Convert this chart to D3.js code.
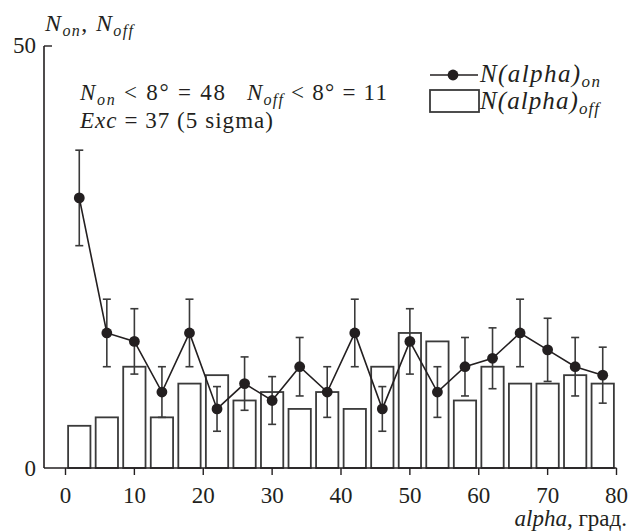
<!DOCTYPE html>
<html><head><meta charset="utf-8">
<script src="https://cdn.jsdelivr.net/npm/d3@7"></script>
<style>
body{margin:0;background:#fff;}
text{white-space:pre;}
</style></head>
<body><svg id="c" width="630" height="531"></svg>
<script>
// bin centers (degrees)
const binCenters = [2,6,10,14,18,22,26,30,34,38,42,46,50,54,58,62,66,70,74,78];
const nOn  = [32,16,15,9,16,7,10,8,12,9,16,7,15,9,12,13,16,14,12,11];
const nOff = [5,6,12,6,10,11,8,9,7,9,7,12,16,15,8,12,10,10,11,10];
const xTicks = [0,10,20,30,40,50,60,70,80];
const yTicks = [0,50];

const svg = d3.select("#c").attr("font-family", '"Liberation Serif", "Times New Roman", "DejaVu Serif", serif');
const ink = "#231f20";
const x = d3.scaleLinear().domain([0,80]).range([65.5,616.5]);
const y = d3.scaleLinear().domain([0,50]).range([468,46]);
const xLeft = 44;
const halfBar = 1.62;

// bars (off)
svg.append("g").selectAll("rect").data(binCenters).join("rect")
  .attr("x",(d)=>x(d-halfBar)).attr("width",(d)=>x(d+halfBar)-x(d-halfBar))
  .attr("y",(d,i)=>y(nOff[i])).attr("height",(d,i)=>y(0)-y(nOff[i]))
  .attr("fill","#fff").attr("stroke","#3a3a3a").attr("stroke-width",1.8);

// axes
const xAxis = svg.append("g").attr("transform",`translate(0,${y(0)})`);
xAxis.append("line").attr("x1",xLeft).attr("x2",x(80)).attr("y1",0).attr("y2",0)
  .attr("stroke",ink).attr("stroke-width",1.6);
xAxis.selectAll("line.t").data(xTicks).join("line").attr("class","t")
  .attr("x1",d=>x(d)).attr("x2",d=>x(d)).attr("y1",0).attr("y2",7)
  .attr("stroke",ink).attr("stroke-width",1.4);
xAxis.selectAll("text").data(xTicks).join("text")
  .attr("x",d=>x(d)).attr("y",35).attr("text-anchor","middle").attr("fill",ink)
  .attr("font-size",23).text(d=>d);

const yAxis = svg.append("g");
yAxis.append("line").attr("x1",xLeft).attr("x2",xLeft).attr("y1",y(50)).attr("y2",y(0))
  .attr("stroke",ink).attr("stroke-width",1.6);
yAxis.append("line").attr("x1",xLeft).attr("x2",xLeft+8).attr("y1",y(50)).attr("y2",y(50))
  .attr("stroke",ink).attr("stroke-width",1.4);
yAxis.selectAll("text").data(yTicks).join("text")
  .attr("x",36).attr("y",d=>y(d)+ (d===0?8:7)).attr("text-anchor","end").attr("fill",ink)
  .attr("font-size",23).text(d=>d);

// error bars
const eg = svg.append("g").attr("stroke","#3a3a3a").attr("stroke-width",1.6);
binCenters.forEach((c,i)=>{
  const e = Math.sqrt(nOn[i]);
  const cx = x(c);
  eg.append("line").attr("x1",cx).attr("x2",cx).attr("y1",y(nOn[i]+e)).attr("y2",y(nOn[i]-e));
  eg.append("line").attr("x1",cx-4).attr("x2",cx+4).attr("y1",y(nOn[i]+e)).attr("y2",y(nOn[i]+e));
  eg.append("line").attr("x1",cx-4).attr("x2",cx+4).attr("y1",y(nOn[i]-e)).attr("y2",y(nOn[i]-e));
});

// line + dots (on)
const line = d3.line().x((d,i)=>x(binCenters[i])).y(d=>y(d));
svg.append("path").datum(nOn).attr("d",line).attr("fill","none")
  .attr("stroke",ink).attr("stroke-width",1.6);
svg.append("g").selectAll("circle").data(nOn).join("circle")
  .attr("cx",(d,i)=>x(binCenters[i])).attr("cy",d=>y(d)).attr("r",5.4).attr("fill",ink);

function txt(xp, yp, size, len){
  const t = svg.append("text").attr("x",xp).attr("y",yp).attr("font-size",size).attr("fill",ink);
  if (len) t.attr("textLength",len).attr("lengthAdjust","spacing");
  return t;
}
// y title
const yt = txt(45,31,24,88).attr("font-style","italic");
yt.append("tspan").text("N");
yt.append("tspan").attr("font-size",16).attr("dy",5).text("on");
yt.append("tspan").attr("dy",-5).attr("font-style","normal").text(", ");
yt.append("tspan").text("N");
yt.append("tspan").attr("font-size",16).attr("dy",5).text("off");

// annotation
const a1 = txt(80,100,23,145);
a1.append("tspan").attr("font-style","italic").text("N");
a1.append("tspan").attr("font-style","italic").attr("font-size",16).attr("dy",5).text("on");
a1.append("tspan").attr("dy",-5).text(" < 8° = 48");
const a1b = txt(247,100,23,140);
a1b.append("tspan").attr("font-style","italic").text("N");
a1b.append("tspan").attr("font-style","italic").attr("font-size",16).attr("dy",5).text("off");
a1b.append("tspan").attr("dy",-5).text(" < 8° = 11");
const a2 = txt(80,128,23,193);
a2.append("tspan").attr("font-style","italic").text("Exc");
a2.append("tspan").text(" = 37 (5 sigma)");

// legend
svg.append("line").attr("x1",430).attr("x2",478).attr("y1",75).attr("y2",75).attr("stroke",ink).attr("stroke-width",1.6);
svg.append("circle").attr("cx",453).attr("cy",75).attr("r",5.4).attr("fill",ink);
svg.append("rect").attr("x",430).attr("y",90).attr("width",49).attr("height",22)
  .attr("fill","#fff").attr("stroke","#3a3a3a").attr("stroke-width",1.8);
const l1 = txt(480,82,25,120).attr("font-style","italic");
l1.append("tspan").text("N(alpha)");
l1.append("tspan").attr("font-size",17).attr("dy",5).text("on");
const l2 = txt(480,109,25,119).attr("font-style","italic");
l2.append("tspan").text("N(alpha)");
l2.append("tspan").attr("font-size",17).attr("dy",5).text("off");

// x title
const xt = txt(627,526,23).attr("text-anchor","end");
xt.append("tspan").attr("font-style","italic").text("alpha");
xt.append("tspan").text(", град.");
</script></body></html>
